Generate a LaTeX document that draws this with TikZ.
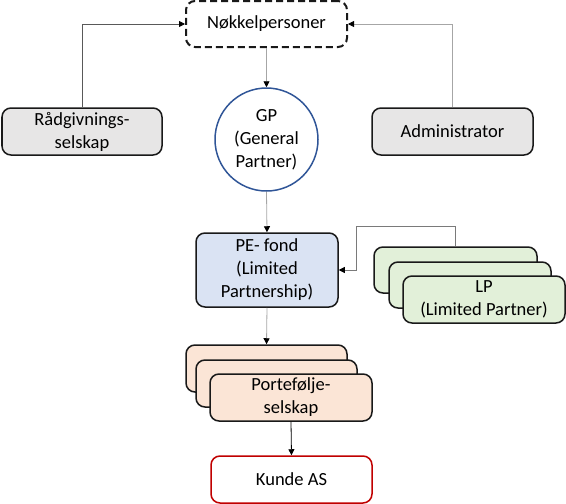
\documentclass[tikz,border=0pt]{standalone}
\usepackage{fontspec}
\setmainfont{Carlito}
\usetikzlibrary{arrows.meta,shapes.geometric}
\definecolor{boxgray}{HTML}{E7E6E6}
\definecolor{boxblue}{HTML}{DAE3F3}
\definecolor{boxgreen}{HTML}{E2F0D9}
\definecolor{boxpeach}{HTML}{FBE5D6}
\definecolor{boxred}{HTML}{C00000}
\definecolor{gpblue}{HTML}{2F5597}
\definecolor{lightline}{HTML}{A6A6A6}
\definecolor{darkline}{HTML}{595959}
\begin{document}
\begin{tikzpicture}[x=1pt,y=-1pt,
  box/.style={draw=black!90, line width=1.5pt, rounded corners=9pt, inner sep=0pt,
    align=center, font=\fontsize{18.5}{23}\selectfont},
  conn/.style={line width=0.8pt, -{Triangle[length=6pt,width=6pt,color=black]}}]
\useasboundingbox (0,0) rectangle (566,504);
% top row
\node[box, dashed, dash pattern=on 7pt off 4pt, line width=2pt, minimum width=161pt, minimum height=46pt] (nk) at (266.5,24) {Nøkkelpersoner};
\node[box, fill=boxgray, minimum width=160pt, minimum height=47pt] (rad) at (82,131.5) {Rådgivnings-\\selskap};
\node[box, fill=boxgray, minimum width=161pt, minimum height=47pt] (adm) at (452.5,131.5) {Administrator};
\node[draw=gpblue, line width=1.5pt, ellipse, minimum width=103pt, minimum height=103pt, inner sep=0pt, align=center, font=\fontsize{18.5}{23}\selectfont] (gp) at (266.5,139.5) {GP\\(General\\Partner)};
% PE fond
\node[box, fill=boxblue, minimum width=142pt, minimum height=74pt] (pe) at (267,270) {PE- fond\\(Limited\\Partnership)};
% LP stack
\node[box, fill=boxgreen, minimum width=163pt, minimum height=46pt] (lp1) at (455.5,270) {};
\node[box, fill=boxgreen, minimum width=162pt, minimum height=46pt] (lp2) at (470,285) {};
\node[box, fill=boxgreen, minimum width=162pt, minimum height=47pt] (lp3) at (484,299.5) {LP\\(Limited Partner)};
% Portefolje stack
\node[box, fill=boxpeach, minimum width=161pt, minimum height=47pt] (po1) at (266.5,368.5) {};
\node[box, fill=boxpeach, minimum width=161pt, minimum height=47pt] (po2) at (276.5,383.5) {};
\node[box, fill=boxpeach, minimum width=162pt, minimum height=47pt] (po3) at (291,397.5) {Portefølje-\\selskap};
% Kunde
\node[box, draw=boxred, minimum width=161pt, minimum height=47pt] (ku) at (291.5,479.5) {Kunde AS};
% connectors
\draw[conn, darkline] (rad.north) |- (nk.west);
\draw[conn, lightline] (adm.north) |- (nk.east);
\draw[conn, lightline] (nk.south) -- (gp.north);
\draw[conn, lightline] (gp.south) -- (pe.north);
\coordinate (lpk) at (356,226);
\draw[conn, darkline!80] (lp1.north) |- (lpk) |- (pe.east);
\draw[conn, lightline] (pe.south) -- (po1.north);
\draw[conn, black] (po3.south) -- (ku.north);
\end{tikzpicture}
\end{document}
